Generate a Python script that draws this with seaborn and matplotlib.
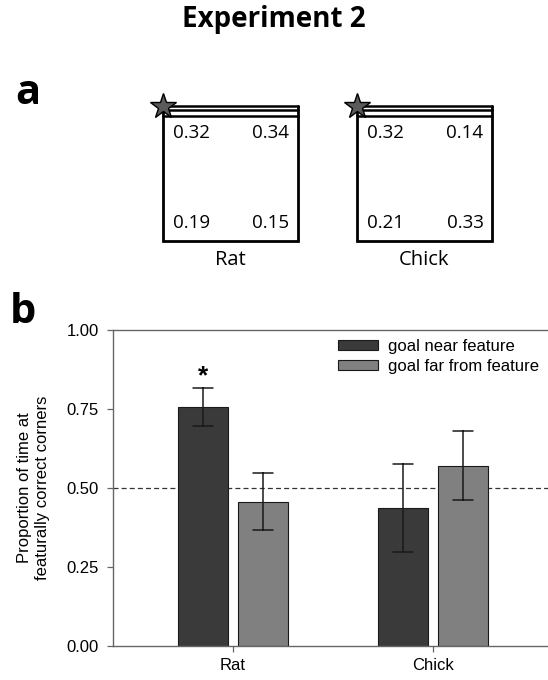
import numpy as np
import pandas as pd
import matplotlib
matplotlib.use('Agg')
import matplotlib.pyplot as plt
import seaborn as sns

# --- datos ---
species = ['Rat', 'Chick']
conditions = ['goal near feature', 'goal far from feature']
mean_near = [0.755, 0.436]
err_near = [0.060, 0.140]
mean_far = [0.457, 0.571]
err_far = [0.091, 0.110]

# proporciones por esquina (sup-izq, sup-der, inf-izq, inf-der)
corner_rat = [0.32, 0.34, 0.19, 0.15]
corner_chick = [0.32, 0.14, 0.21, 0.33]

bar_colors = ['#3a3a3a', '#808080']

sns.set_theme(style='white')
plt.rcParams['font.family'] = ['Liberation Sans', 'DejaVu Sans']
plt.rcParams['text.color'] = 'black'
plt.rcParams['axes.labelcolor'] = 'black'

# tabla larga: dos filas por barra (media - error, media + error)
rows = []
for i, sp in enumerate(species):
    for cond, m, e in [(conditions[0], mean_near[i], err_near[i]),
                       (conditions[1], mean_far[i], err_far[i])]:
        rows.append({'species': sp, 'condition': cond, 'value': m - e})
        rows.append({'species': sp, 'condition': cond, 'value': m + e})
df = pd.DataFrame(rows)

fig = plt.figure(figsize=(5.48, 6.8), dpi=100)
W, H = 548, 680

fig.text(274 / W, 1 - 20 / H, 'Experiment 2', ha='center', va='center',
         fontsize=20, fontweight='bold', family='Open Sans')
fig.text(15 / W, 1 - 93 / H, 'a', ha='left', va='center',
         fontsize=30, fontweight='bold', family='Open Sans')
fig.text(10 / W, 1 - 313 / H, 'b', ha='left', va='center',
         fontsize=30, fontweight='bold', family='Open Sans')

# --- panel a: esquemas de las cajas ---
def draw_box(left_px, name, vals):
    ax = fig.add_axes([left_px / W, 1 - 241 / H, 135 / W, 135.5 / H])
    ax.set_xlim(0, 1)
    ax.set_ylim(0, 1)
    ax.axis('off')
    ax.plot([0, 0, 1, 1], [1, 0, 0, 1], color='black', lw=2.0,
            solid_joinstyle='miter', clip_on=False)
    for yy in [1.0, 1 - 4.5 / 135.5, 1 - 10 / 135.5]:
        ax.plot([0, 1], [yy, yy], color='black', lw=1.8, clip_on=False)
    ax.plot([0], [1], marker='*', ms=19, color='#5a5a5a', mec='black',
            mew=1.0, clip_on=False, zorder=5)
    pos = [(0.21, 0.80), (0.80, 0.80), (0.21, 0.13), (0.80, 0.13)]
    for (px, py), v in zip(pos, vals):
        ax.text(px, py, f'{v:.2f}', ha='center', va='center', fontsize=13.5,
                family='Open Sans')
    ax.text(0.5, -0.14, name, ha='center', va='center', fontsize=14.5,
            family='Open Sans')

draw_box(163, 'Rat', corner_rat)
draw_box(357, 'Chick', corner_chick)

# --- panel b: barras ---
ax = fig.add_axes([113 / W, 1 - 646 / H, (W - 113) / W, 316 / H])
sns.barplot(data=df, x='species', y='value', hue='condition',
            order=species, hue_order=conditions, palette=bar_colors,
            estimator='mean', errorbar=lambda v: (v.min(), v.max()),
            width=0.6, gap=0.18, capsize=0.2, edgecolor='#1a1a1a',
            linewidth=0.8, err_kws={'color': '#1a1a1a', 'linewidth': 1.1},
            ax=ax)

ax.axhline(0.5, color='#333333', lw=0.9, ls=(0, (4, 2.5)), zorder=0.5)

# asterisco sobre la barra "near" de Rat
near_bar = ax.patches[0]
ax.text(near_bar.get_x() + near_bar.get_width() / 2, 0.855, '*',
        ha='center', va='center', fontsize=19, fontweight='bold')

ax.set_xlim(-0.6, 1.575)
ax.set_ylim(0, 1)
ax.set_yticks([0, 0.25, 0.5, 0.75, 1.0])
ax.set_yticklabels(['0.00', '0.25', '0.50', '0.75', '1.00'])
ax.set_xlabel('')
ax.set_ylabel('Proportion of time at\nfeaturally correct corners', fontsize=12,
              linespacing=1.25)
ax.yaxis.set_label_coords(-0.145, 0.5)
ax.tick_params(axis='both', labelsize=12, length=4, width=0.9,
               color='#666666', labelcolor='black', direction='out', pad=6)
ax.tick_params(axis='x', bottom=True, pad=5)
ax.tick_params(axis='y', left=True)
for side in ['left', 'bottom', 'top']:
    ax.spines[side].set_color('#666666')
    ax.spines[side].set_linewidth(1.0)
ax.spines['right'].set_visible(False)

handles, labels = ax.get_legend_handles_labels()
ax.legend(handles, labels, loc='upper left', frameon=False,
          bbox_to_anchor=(338 / W, 1 - 339 / H), bbox_transform=fig.transFigure,
          borderaxespad=0, borderpad=0, fontsize=12, handlelength=2.4,
          handleheight=0.6, handletextpad=0.6, labelspacing=0.28)

fig.savefig('out.png', dpi=100)
